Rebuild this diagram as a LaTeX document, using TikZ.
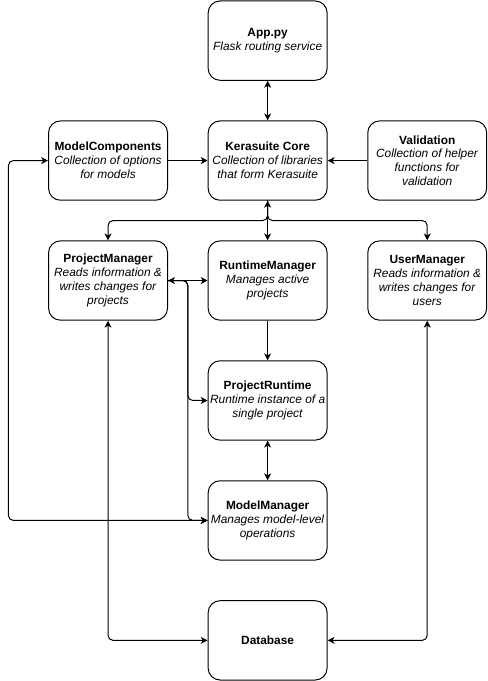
\documentclass[tikz,border=0pt]{standalone}
\usepackage{fontspec}
\setmainfont{Liberation Sans}
\usepackage{xcolor}
\definecolor{cMain}{HTML}{000000}
\usepackage{tikz}
\usetikzlibrary{positioning,arrows.meta}
\tikzset{
  node-box/.style={draw=cMain,line width=1pt,rounded corners=12pt,
    minimum height=80pt,minimum width=120pt,inner sep=1pt,align=center,
    font=\fontsize{12}{14}\selectfont},
  arrow/.style={-{Stealth[length=7pt,width=7pt,inset=2pt]},line width=1pt,draw=cMain,rounded corners=5pt},
  arrow-both/.style={{Stealth[length=7pt,width=7pt,inset=2pt]}-{Stealth[length=7pt,width=7pt,inset=2pt]},line width=1pt,draw=cMain,rounded corners=5pt},
}

\begin{document}
\begin{tikzpicture}[node distance=40pt and 40pt]
  \node[node-box] (app) {\textbf{App.py}\\\textit{Flask routing service}};
  \node[node-box,below=of app] (core) {\textbf{Kerasuite Core}\\\textit{Collection of libraries}\\\textit{that form Kerasuite}};
  \node[node-box,left=of core] (comp) {\textbf{ModelComponents}\\\textit{Collection of options}\\\textit{for models}};
  \node[node-box,right=of core] (valid) {\textbf{Validation}\\\textit{Collection of helper}\\\textit{functions for}\\\textit{validation}};
  \node[node-box,below=of core] (runtime) {\textbf{RuntimeManager}\\\textit{Manages active}\\\textit{projects}};
  \node[node-box,left=of runtime] (projmgr) {\textbf{ProjectManager}\\\textit{Reads information \&}\\\textit{writes changes for}\\\textit{projects}};
  \node[node-box,right=of runtime] (usermgr) {\textbf{UserManager}\\\textit{Reads information \&}\\\textit{writes changes for}\\\textit{users}};
  \node[node-box,below=of runtime] (projrt) {\textbf{ProjectRuntime}\\\textit{Runtime instance of a}\\\textit{single project}};
  \node[node-box,below=of projrt] (modelmgr) {\textbf{ModelManager}\\\textit{Manages model-level}\\\textit{operations}};
  \node[node-box,below=of modelmgr] (db) {\textbf{Database}};
  \useasboundingbox ([shift={(-48.5pt,0.5pt)}]comp.west |- app.north) rectangle ([shift={(0.5pt,-0.5pt)}]valid.east |- db.south);
  \draw[arrow-both] (app) -- (core);
  \draw[arrow] (comp) -- (core);
  \draw[arrow] (valid) -- (core);
  \draw[arrow-both] (core) -- (runtime);
  \draw[arrow] (core.south) -- ++(0,-20pt) -| (projmgr.north);
  \draw[arrow] (core.south) -- ++(0,-20pt) -| (usermgr.north);
  \draw[arrow-both] (projmgr) -- (runtime);
  \draw[arrow] (projmgr.east) -- ++(20pt,0) |- (projrt.west);
  \draw[arrow] (projmgr.east) -- ++(20pt,0) |- (modelmgr.west);
  \draw[arrow-both] (comp.west) -- ++(-40pt,0) |- (modelmgr.west);
  \draw[arrow] (runtime) -- (projrt);
  \draw[arrow-both] (projrt) -- (modelmgr);
  \draw[arrow-both] (projmgr.south) |- (db.west);
  \draw[arrow-both] (usermgr.south) |- (db.east);
\end{tikzpicture}
\end{document}
